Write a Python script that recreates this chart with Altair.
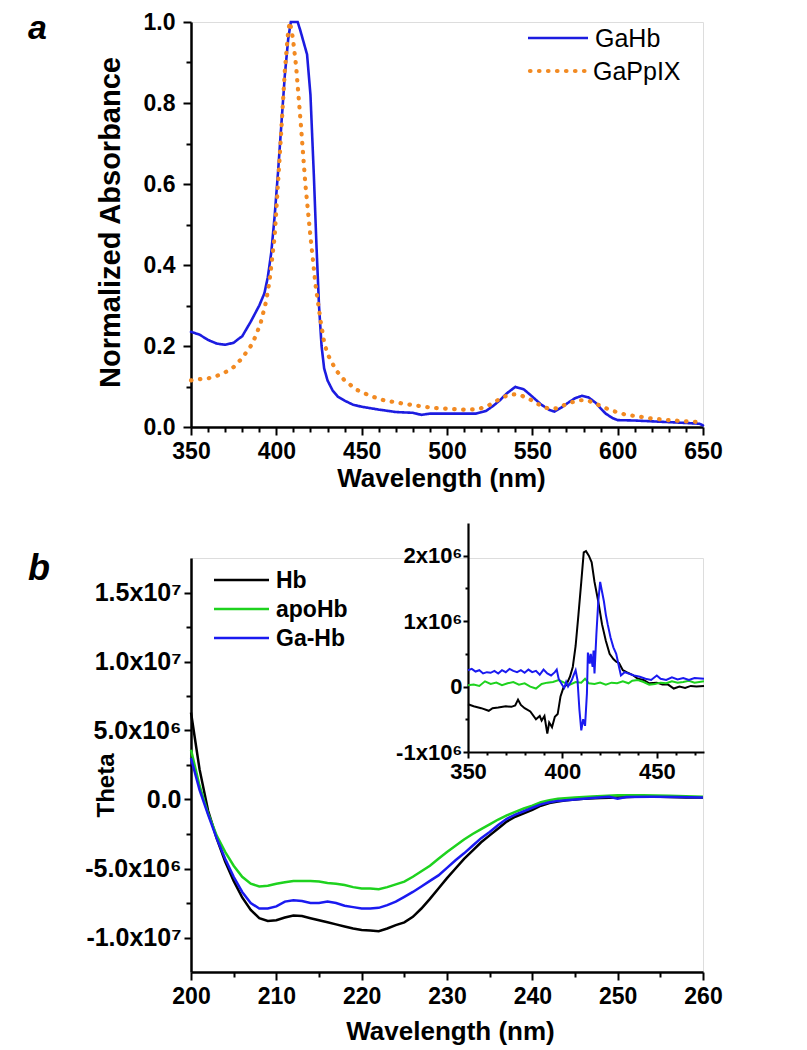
import altair as alt
import pandas as pd

FONT = "Liberation Sans"

# ---------------- Panel a : UV-vis ----------------
a_wl_gahb = [350, 355, 360, 365, 370, 375, 378, 380, 385, 390, 393, 395, 397, 399, 401, 403, 405, 407,
             408.5, 412.5, 414, 416, 418, 420, 422, 423.5, 425, 426.5, 428, 430, 433, 436, 440, 445, 450,
             460, 470, 480, 485, 490, 500, 510, 517, 523, 527, 531, 535, 540, 545, 550, 555, 560, 563,
             567, 571, 575, 579, 583, 587, 590, 593, 597, 600, 610, 620, 630, 640, 648, 650]
a_abs_gahb = [0.235, 0.228, 0.215, 0.206, 0.203, 0.208, 0.218, 0.224, 0.26, 0.30, 0.33, 0.37, 0.43, 0.52,
              0.63, 0.75, 0.87, 0.96, 1.0, 1.0, 0.98, 0.95, 0.92, 0.82, 0.62, 0.45, 0.30, 0.20, 0.145,
              0.115, 0.09, 0.075, 0.065, 0.055, 0.05, 0.043, 0.037, 0.035, 0.030, 0.033, 0.033, 0.033,
              0.033, 0.040, 0.052, 0.066, 0.083, 0.099, 0.093, 0.075, 0.056, 0.042, 0.038, 0.048, 0.060,
              0.071, 0.077, 0.073, 0.060, 0.046, 0.033, 0.022, 0.017, 0.016, 0.014, 0.012, 0.010, 0.008,
              0.004]
a_wl_ppix = [350, 355, 360, 365, 370, 375, 380, 385, 388, 391, 394, 396, 399, 402, 405, 407, 408, 409.7,
             411.6, 414.5, 417, 420, 423, 426, 428, 430, 435, 440, 447, 455, 463, 471, 480, 490, 500, 510,
             518, 523, 528, 533, 538, 542, 547, 552, 556, 560, 564, 568, 573, 578, 582, 586, 590, 595,
             600, 605, 612, 620, 630, 640, 650]
a_abs_ppix = [0.115, 0.118, 0.12, 0.126, 0.135, 0.148, 0.17, 0.20, 0.225, 0.26, 0.31, 0.36, 0.47, 0.67,
              0.88, 0.98, 1.0, 0.96, 0.89, 0.74, 0.60, 0.47, 0.35, 0.26, 0.21, 0.18, 0.14, 0.115, 0.092,
              0.077, 0.066, 0.060, 0.054, 0.048, 0.045, 0.043, 0.044, 0.050, 0.062, 0.074, 0.081, 0.080,
              0.072, 0.060, 0.050, 0.045, 0.046, 0.053, 0.061, 0.066, 0.066, 0.060, 0.052, 0.043, 0.036,
              0.030, 0.026, 0.021, 0.017, 0.014, 0.012]
a_series = ["GaHb", "GaPpIX"]
a_colors = ["#1c1ce0", "#f28a22"]

# ---------------- Panel b : CD spectra (Theta, units of 1e6) ----------------
b_wl_hb = [200, 201, 202, 203, 204, 205, 206, 207, 208, 209, 210, 211, 212, 213, 214, 215, 216, 217, 218,
           219, 220, 221, 222, 223, 224, 225, 226, 227, 228, 229, 230, 231, 232, 233, 234, 235, 236, 237,
           238, 239, 240, 241, 242, 243, 244, 245, 246, 248, 250, 252, 255, 258, 260]
b_th_hb = [6.3, 2.2, -0.8, -2.8, -4.5, -5.9, -7.1, -8.0, -8.6, -8.8, -8.75, -8.55, -8.4, -8.45, -8.6,
           -8.75, -8.9, -9.05, -9.2, -9.35, -9.45, -9.5, -9.55, -9.35, -9.1, -8.9, -8.5, -7.9, -7.2, -6.45,
           -5.7, -5.0, -4.3, -3.7, -3.1, -2.6, -2.1, -1.6, -1.25, -1.0, -0.75, -0.45, -0.25, -0.15, -0.05,
           0.0, 0.05, 0.1, 0.15, 0.2, 0.2, 0.15, 0.15]
b_wl_apo = [200, 201, 202, 203, 204, 205, 206, 207, 208, 209, 210, 211, 212, 213, 214, 215, 216, 217, 218,
            219, 220, 221, 222, 223, 224, 225, 226, 227, 228, 229, 230, 231, 232, 233, 234, 235, 236, 237,
            238, 239, 240, 241, 242, 243, 245, 247, 250, 253, 256, 260]
b_th_apo = [3.6, 1.0, -1.0, -2.6, -3.8, -4.8, -5.6, -6.1, -6.3, -6.25, -6.1, -6.0, -5.9, -5.9, -5.9,
            -5.95, -6.05, -6.1, -6.2, -6.35, -6.45, -6.45, -6.5, -6.35, -6.15, -5.95, -5.6, -5.2, -4.8,
            -4.3, -3.8, -3.35, -2.9, -2.5, -2.15, -1.8, -1.45, -1.15, -0.9, -0.65, -0.45, -0.2, -0.05,
            0.05, 0.15, 0.22, 0.3, 0.3, 0.28, 0.2]
b_wl_ga = [200, 201, 202, 203, 204, 205, 206, 207, 208, 209, 210, 211, 212, 213, 214, 215, 216, 217, 218,
           219, 220, 221, 222, 223, 224, 225, 226, 227, 228, 229, 230, 231, 232, 233, 234, 235, 236, 237,
           238, 239, 240, 241, 242, 243, 245, 247, 249, 250, 251, 254, 257, 260]
b_th_ga = [3.0, 0.7, -1.1, -2.8, -4.3, -5.6, -6.7, -7.5, -7.9, -7.9, -7.75, -7.4, -7.3, -7.35, -7.5, -7.5,
           -7.4, -7.5, -7.7, -7.8, -7.9, -7.9, -7.85, -7.65, -7.4, -7.05, -6.7, -6.3, -5.9, -5.5, -4.95,
           -4.4, -3.9, -3.35, -2.8, -2.35, -1.85, -1.4, -1.1, -0.85, -0.6, -0.35, -0.2, -0.1, 0.0, 0.1,
           0.2, 0.05, 0.18, 0.2, 0.18, 0.15]

# inset (Soret region), units of 1e6
i_wl_hb = [350, 353, 357, 361, 363, 366, 370, 373, 375, 376.5, 378, 380, 383, 386, 388, 389, 390.5, 392,
           393, 394.5, 396, 397.5, 399, 400.5, 402, 404, 405.5, 407, 408.5, 410, 411.3, 412.5, 414, 415.5,
           417, 419, 421, 423, 425, 427, 428.5, 430, 432, 434, 437, 440, 443, 446, 450, 453, 456, 459,
           462, 465, 468, 471, 475]
i_th_hb = [-0.27, -0.30, -0.33, -0.37, -0.33, -0.32, -0.30, -0.31, -0.29, -0.20, -0.28, -0.33, -0.38,
           -0.50, -0.45, -0.52, -0.45, -0.72, -0.55, -0.62, -0.46, -0.42, -0.15, -0.02, 0.02, 0.15, 0.30,
           0.62, 1.10, 1.60, 2.05, 2.07, 2.00, 1.90, 1.60, 1.30, 0.95, 0.70, 0.50, 0.42, 0.38, 0.36, 0.25,
           0.22, 0.18, 0.12, 0.10, 0.05, 0.06, 0.03, 0.03, -0.03, 0.0, -0.02, 0.01, 0.0, 0.01]
i_wl_apo = [350, 353, 356, 359, 362, 365, 368, 371, 374, 377, 380, 383, 386, 389, 392, 395, 398, 401, 404,
            407, 410, 412, 414, 417, 420, 423, 426, 429, 432, 435, 437, 440, 443, 446, 449, 452, 455, 458,
            461, 464, 467, 470, 475]
i_th_apo = [0.02, 0.03, 0.01, 0.08, 0.04, 0.06, 0.02, 0.05, 0.07, 0.03, 0.05, 0.0, -0.03, 0.04, 0.06,
            0.07, 0.10, 0.06, 0.03, 0.07, 0.06, 0.12, 0.05, 0.04, 0.06, 0.03, 0.06, 0.05, 0.08, 0.05, 0.09,
            0.10, 0.07, 0.03, 0.04, 0.06, 0.05, 0.08, 0.06, 0.07, 0.09, 0.06, 0.08]
i_wl_ga = [350, 352, 354, 356, 358, 360, 362, 364, 366, 368, 370, 372, 374, 376, 378, 380, 382, 384, 386,
           388, 390, 392, 394, 396, 397, 398, 400, 401, 402, 403, 404, 405, 406, 407, 408, 409, 410, 411,
           412, 413, 413.5, 414.5, 415, 416, 416.5, 417, 418, 419, 420, 421, 422, 423, 424, 425.5, 427,
           428.5, 430, 431, 433, 435, 438, 441, 444, 447, 450, 452, 455, 458, 461, 464, 467, 470, 475]
i_th_ga = [0.25, 0.27, 0.23, 0.25, 0.20, 0.22, 0.21, 0.24, 0.20, 0.25, 0.22, 0.27, 0.24, 0.22, 0.25, 0.21,
           0.26, 0.22, 0.24, 0.18, 0.26, 0.20, 0.17, 0.22, 0.26, 0.12, 0.02, -0.02, 0.07, 0.0, 0.05, 0.10,
           0.18, 0.25, 0.10, -0.35, -0.67, -0.50, -0.60, -0.10, 0.52, 0.35, 0.50, 0.30, 0.55, 0.20, 0.80,
           1.30, 1.60, 1.45, 1.30, 1.10, 0.95, 0.75, 0.60, 0.50, 0.30, 0.17, 0.22, 0.20, 0.17, 0.15, 0.12,
           0.10, 0.17, 0.12, 0.10, 0.14, 0.11, 0.13, 0.10, 0.13, 0.12]

b_series = ["Hb", "apoHb", "Ga-Hb"]
b_colors = ["#000000", "#1ed21e", "#1a1af0"]

# tick positions (major = labelled, minor = unlabelled)
a_x_major = [350, 400, 450, 500, 550, 600, 650]
a_x_minor = [360, 370, 380, 390, 410, 420, 430, 440, 460, 470, 480, 490, 510, 520, 530, 540,
             560, 570, 580, 590, 610, 620, 630, 640]
a_y_major = [0.0, 0.2, 0.4, 0.6, 0.8, 1.0]
a_y_minor = [0.1, 0.3, 0.5, 0.7, 0.9]
b_x_major = [200, 210, 220, 230, 240, 250, 260]
b_x_minor = [205, 215, 225, 235, 245, 255]
b_y_major = [-10000000, -5000000, 0, 5000000, 10000000, 15000000]
b_y_minor = [-7500000, -2500000, 2500000, 7500000, 12500000]
i_x_major = [350, 400, 450]
i_x_minor = [360, 370, 380, 390, 410, 420, 430, 440, 460, 470]
i_y_major = [-1000000, 0, 1000000, 2000000]
i_y_minor = [-500000, 500000, 1500000]

b_y_label = ("datum.value == 15000000 ? '1.5x10\u2077' : datum.value == 10000000 ? '1.0x10\u2077' : "
             "datum.value == 5000000 ? '5.0x10\u2076' : datum.value == 0 ? '0.0' : "
             "datum.value == -5000000 ? '-5.0x10\u2076' : datum.value == -10000000 ? '-1.0x10\u2077' : ''")
i_y_label = ("datum.value == 2000000 ? '2x10\u2076' : datum.value == 1000000 ? '1x10\u2076' : "
             "datum.value == 0 ? '0' : datum.value == -1000000 ? '-1x10\u2076' : ''")


def frame(wls, vals, name, key, scale=1.0):
    return pd.DataFrame({"wl": wls, "val": [v * scale for v in vals], key: name})


dfa = pd.concat([frame(a_wl_gahb, a_abs_gahb, "GaHb", "sa"), frame(a_wl_ppix, a_abs_ppix, "GaPpIX", "sa")])
dfb = pd.concat([frame(b_wl_hb, b_th_hb, "Hb", "sb", 1e6), frame(b_wl_apo, b_th_apo, "apoHb", "sb", 1e6),
                 frame(b_wl_ga, b_th_ga, "Ga-Hb", "sb", 1e6)])
dfi = pd.concat([frame(i_wl_hb, i_th_hb, "Hb", "sb", 1e6), frame(i_wl_apo, i_th_apo, "apoHb", "sb", 1e6),
                 frame(i_wl_ga, i_th_ga, "Ga-Hb", "sb", 1e6)])

common_axis = dict(domainColor="black", tickColor="black", tickWidth=2, labelFlush=False,
                   labelFont=FONT, labelFontWeight="bold", labelColor="black", labelOverlap=False,
                   titleFont=FONT, titleFontWeight="bold", titleColor="black", grid=False)


def minor_layer(df, xdom, ydom, xvals, yvals, size, xrange=None, yrange=None, xoff=0, yoff=0):
    xs = alt.Scale(domain=xdom, nice=False, zero=False)
    ys = alt.Scale(domain=ydom, nice=False, zero=False)
    if xrange is not None:
        xs = alt.Scale(domain=xdom, range=xrange, nice=False, zero=False)
    if yrange is not None:
        ys = alt.Scale(domain=ydom, range=yrange, nice=False, zero=False)
    ax = dict(labels=False, domain=False, tickSize=size, tickWidth=2, tickColor="black", grid=False,
              title=None)
    return alt.Chart(df).mark_point(opacity=0).encode(
        x=alt.X("wl:Q", scale=xs, axis=alt.Axis(orient="bottom", offset=xoff, values=xvals, **ax)),
        y=alt.Y("val:Q", scale=ys, axis=alt.Axis(orient="left", offset=yoff, values=yvals, **ax)),
    )


one = pd.DataFrame({"k": [0]})


def legend_entry(x1, x2, y, color, dash, width, text, weight, size):
    rule = alt.Chart(one).mark_rule(color=color, strokeWidth=width, strokeDash=dash,
                                    strokeCap="round" if dash != [1, 0] else "butt").encode(
        x=alt.value(x1), x2=alt.value(x2), y=alt.value(y))
    label = alt.Chart(one).mark_text(text=text, font=FONT, fontWeight=weight, fontSize=size,
                                     align="left", baseline="middle", color="black").encode(
        x=alt.value(x2 + 7), y=alt.value(y + 1))
    return [rule, label]


# ---------------- Panel a chart ----------------
PA_W, PA_H = 512, 405
a_lines = alt.Chart(dfa).mark_line(strokeCap="round").encode(
    x=alt.X("wl:Q", scale=alt.Scale(domain=[350, 650], nice=False, zero=False),
            axis=alt.Axis(values=a_x_major, tickSize=8, labelFontSize=23, domainWidth=2.5,
                          labelPadding=5, title="Wavelength (nm)", titleFontSize=26,
                          titleX=PA_W / 2 - 6, titleY=59, titleBaseline="alphabetic", **common_axis)),
    y=alt.Y("val:Q", scale=alt.Scale(domain=[0, 1.0], nice=False),
            axis=alt.Axis(values=a_y_major, format=".1f", tickSize=8, labelFontSize=23,
                          domainWidth=2.5, labelPadding=8, title="Normalized Absorbance",
                          titleFontSize=29, titleX=-72, titleY=200, titleAngle=-90,
                          titleBaseline="alphabetic", titleAlign="center", **common_axis)),
    color=alt.Color("sa:N", scale=alt.Scale(domain=a_series, range=a_colors), legend=None),
    strokeDash=alt.StrokeDash("sa:N", scale=alt.Scale(domain=a_series, range=[[1, 0], [0.5, 8.5]]),
                              legend=None),
    strokeWidth=alt.StrokeWidth("sa:N", scale=alt.Scale(domain=a_series, range=[2.6, 4.2]), legend=None),
)
a_minor = minor_layer(dfa, [350, 650], [0, 1.0], a_x_minor, a_y_minor, 5)

a_leg = (legend_entry(337, 397, 16, a_colors[0], [1, 0], 2.6, "GaHb", "normal", 25)
         + legend_entry(339, 395, 49, a_colors[1], [0.5, 8.5], 4.2, "GaPpIX", "normal", 25))
a_tag = alt.Chart(one).mark_text(text="a", font=FONT, fontWeight="bold", fontStyle="italic",
                                 fontSize=34, align="left", baseline="alphabetic",
                                 color="black").encode(x=alt.value(-163), y=alt.value(17))
panel_a = alt.layer(a_lines, a_minor, *a_leg, a_tag).resolve_scale(
    x="independent", y="independent").properties(width=PA_W, height=PA_H)

# ---------------- Panel b chart ----------------
PB_W, PB_H = 512, 414
b_lines = alt.Chart(dfb).mark_line(strokeWidth=2.5).encode(
    x=alt.X("wl:Q", scale=alt.Scale(domain=[200, 260], nice=False, zero=False),
            axis=alt.Axis(values=b_x_major, tickSize=8, labelFontSize=23, domainWidth=2.5,
                          labelPadding=5, title="Wavelength (nm)", titleFontSize=26,
                          titleX=PB_W / 2 + 3, titleY=67, titleBaseline="alphabetic", **common_axis)),
    y=alt.Y("val:Q", scale=alt.Scale(domain=[-12500000, 17500000], nice=False, zero=False),
            axis=alt.Axis(values=b_y_major, labelExpr=b_y_label, tickSize=7, labelFontSize=25,
                          domainWidth=2.5, labelPadding=3, title="Theta", titleFontSize=24,
                          titleX=-78, titleY=227, titleAngle=-90, titleBaseline="alphabetic",
                          titleAlign="center", **common_axis)),
    color=alt.Color("sb:N", scale=alt.Scale(domain=b_series, range=b_colors), legend=None),
)
b_minor = minor_layer(dfb, [200, 260], [-12500000, 17500000], b_x_minor, b_y_minor, 5)

I_XR, I_YR = [277, 513], [194, -35]
i_lines = alt.Chart(dfi).mark_line(strokeWidth=2).encode(
    x=alt.X("wl:Q", scale=alt.Scale(domain=[350, 475], range=I_XR, nice=False, zero=False),
            axis=alt.Axis(orient="bottom", offset=-220, values=i_x_major, tickSize=6,
                          labelFontSize=22, domainWidth=2.2, labelPadding=3, title=None,
                          **common_axis)),
    y=alt.Y("val:Q", scale=alt.Scale(domain=[-1000000, 2500000], range=I_YR, nice=False, zero=False),
            axis=alt.Axis(orient="left", offset=-277, values=i_y_major, labelExpr=i_y_label,
                          tickSize=5, labelFontSize=22, domainWidth=2.2, labelPadding=1, title=None,
                          **common_axis)),
    color=alt.Color("sb:N", scale=alt.Scale(domain=b_series, range=b_colors), legend=None),
)
i_minor = minor_layer(dfi, [350, 475], [-1000000, 2500000], i_x_minor, i_y_minor, 3,
                      xrange=I_XR, yrange=I_YR, xoff=-220, yoff=-277)

b_leg = (legend_entry(23, 78, 22, b_colors[0], [1, 0], 2.5, "Hb", "bold", 23)
         + legend_entry(23, 78, 51, b_colors[1], [1, 0], 2.5, "apoHb", "bold", 23)
         + legend_entry(23, 78, 80, b_colors[2], [1, 0], 2.5, "Ga-Hb", "bold", 23))
b_tag = alt.Chart(one).mark_text(text="b", font=FONT, fontWeight="bold", fontStyle="italic",
                                 fontSize=36, align="left", baseline="alphabetic",
                                 color="black").encode(x=alt.value(-163), y=alt.value(22))

panel_b = alt.layer(b_lines, b_minor, i_lines, i_minor, *b_leg, b_tag).resolve_scale(
    x="independent", y="independent").properties(width=PB_W, height=PB_H)

chart = alt.vconcat(panel_a, panel_b, spacing=131, bounds="flush").resolve_scale(
    color="independent").properties(
    padding={"left": 19, "top": 2, "right": 5, "bottom": 0}
).configure_view(stroke=None).configure(font=FONT)

chart.save("out.html", embed_options={"renderer": "svg", "actions": False})
